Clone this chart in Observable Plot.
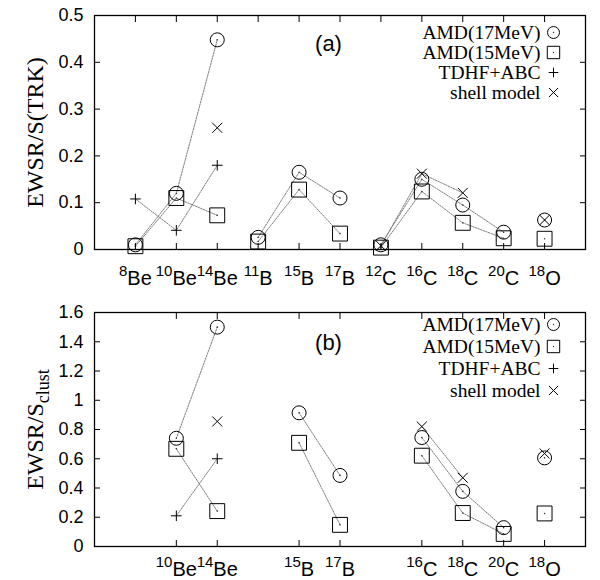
<!DOCTYPE html>
<html>
<head>
<meta charset="utf-8">
<script src="https://cdn.jsdelivr.net/npm/d3@7"></script>
<script src="https://cdn.jsdelivr.net/npm/@observablehq/plot@0.6"></script>
<style>
  body { margin: 0; background: #fff; }
  #chart { width: 600px; }
  #chart svg { display: block; }
</style>
</head>
<body>
<div id="chart"></div>
<script>
// ---------- data ----------
const isotopes = ["8Be","10Be","14Be","11B","15B","17B","12C","16C","18C","20C","18O"];
const groups   = ["Be","Be","Be","B","B","B","C","C","C","C","O"];
const seriesNames = ["AMD(17MeV)", "AMD(15MeV)", "TDHF+ABC", "shell model"];

// panel (a): EWSR / S(TRK)
const amd17A = [0.010, 0.120, 0.448, 0.026, 0.165, 0.110, 0.010, 0.150, 0.095, 0.037, 0.063];
const amd15A = [0.007, 0.110, 0.073, 0.017, 0.128, 0.034, 0.004, 0.124, 0.057, 0.024, 0.023];
const tdhfA  = [0.108, 0.041, 0.180, null, null, null, null, null, null, null, null];
const shellA = [null, null, 0.260, null, null, null, 0.008, 0.162, 0.121, null, 0.063];
const yTicksA = [0, 0.1, 0.2, 0.3, 0.4, 0.5];
const xTicksA = ["8Be","10Be","14Be","11B","15B","17B","12C","16C","18C","20C","18O"];

// panel (b): EWSR / S_clust
const amd17B = [null, 0.740, 1.500, null, 0.914, 0.486, null, 0.745, 0.377, 0.129, 0.606];
const amd15B = [null, 0.668, 0.242, null, 0.709, 0.148, null, 0.621, 0.229, 0.086, 0.226];
const tdhfB  = [null, 0.210, 0.600, null, null, null, null, null, null, null, null];
const shellB = [null, null, 0.855, null, null, null, null, 0.820, 0.470, null, 0.636];
const yTicksB = [0, 0.2, 0.4, 0.6, 0.8, 1, 1.2, 1.4, 1.6];
const xTicksB = ["10Be","14Be","15B","17B","16C","18C","20C","18O"];

// ---------- helpers ----------
const SANS = "'Liberation Sans', Arial, Helvetica, sans-serif";
const SERIF = "'Liberation Serif', 'Times New Roman', Times, serif";
const symbols = [
  {symbol: "circle", r: 7,   lr: 6,   dotted: true},
  {symbol: "square", r: 8.4, lr: 7,   dotted: true},
  {symbol: "plus",   r: 3.5, lr: 3.2, dotted: false},
  {symbol: "times",  r: 4.6, lr: 4.2, dotted: false}
];

function rowsFor(vals, name) {
  return vals.map((v, i) => ({x: i + 1, y: v, g: groups[i], s: name}));
}

function panel(opts) {
  const {series, yDomain, yTicks, xTicks, yLabel, tag, height, marginTop, marginBottom,
         xPad, legendDy, legendStep, tagDy} = opts;
  const rows = series.flatMap((vals, k) => rowsFor(vals, seriesNames[k]));
  const xt = xTicks.map(n => isotopes.indexOf(n) + 1);
  const marks = [];
  // connecting lines
  marks.push(Plot.line(rows, {
    x: "x", y: "y", z: d => d.s + "|" + d.g,
    stroke: "#6f6f6f", strokeWidth: 0.9, strokeDasharray: "1.6,1.2"
  }));
  // markers
  seriesNames.forEach((name, k) => {
    const data = rows.filter(d => d.s === name && d.y != null);
    const sy = symbols[k];
    marks.push(Plot.dot(data, {x: "x", y: "y", symbol: sy.symbol, r: sy.r,
      stroke: "black", strokeWidth: 1, fill: "none"}));
    if (sy.dotted) marks.push(Plot.dot(data, {x: "x", y: "y", r: 0.8, fill: "#333", stroke: "none"}));
  });
  // axes: labels
  marks.push(Plot.axisX({anchor: "bottom", ticks: xt, tickSize: 0, tickPadding: xPad,
    tickFormat: i => isotopes[i - 1], fontSize: 20, fontFamily: SANS, fill: "black", label: null}));
  marks.push(Plot.axisY({anchor: "left", ticks: yTicks, tickSize: 0, tickPadding: 11,
    tickFormat: d => String(d), fontSize: 18, fontFamily: SANS, fill: "black", label: null}));
  // axes: inward ticks on all sides
  marks.push(Plot.axisX({anchor: "bottom", ticks: xt, tickSize: -6, tickFormat: () => "", label: null, stroke: "black"}));
  marks.push(Plot.axisX({anchor: "top", ticks: xt, tickSize: -6, tickFormat: () => "", label: null, stroke: "black"}));
  marks.push(Plot.axisY({anchor: "left", ticks: yTicks, tickSize: -6, tickFormat: () => "", label: null, stroke: "black"}));
  marks.push(Plot.axisY({anchor: "right", ticks: yTicks, tickSize: -6, tickFormat: () => "", label: null, stroke: "black"}));
  marks.push(Plot.frame({stroke: "black", strokeWidth: 1.3}));
  // y label
  marks.push(Plot.text([yLabel], {text: d => d, frameAnchor: "left", dx: -59, rotate: -90,
    fontSize: 24, fontFamily: SERIF, fill: "black", textAnchor: "middle", lineAnchor: "middle"}));
  // panel tag
  marks.push(Plot.text([tag], {text: d => d, frameAnchor: "top-left", dx: 234, dy: tagDy,
    fontSize: 22, fontFamily: SANS, fill: "black", textAnchor: "middle", lineAnchor: "middle"}));
  // legend
  seriesNames.forEach((name, k) => {
    const dy = legendDy + k * legendStep;
    marks.push(Plot.text([name], {text: d => d, frameAnchor: "top-right", dx: -45, dy,
      fontSize: 19.5, fontFamily: SERIF, fill: "black", textAnchor: "end", lineAnchor: "middle"}));
    const sy = symbols[k];
    marks.push(Plot.dot([name], {frameAnchor: "top-right", dx: -32, dy, symbol: sy.symbol, r: sy.lr,
      stroke: "black", strokeWidth: 1, fill: "none"}));
    if (sy.dotted) marks.push(Plot.dot([name], {frameAnchor: "top-right", dx: -32, dy, r: 0.7, fill: "#333", stroke: "none"}));
  });

  const svg = Plot.plot({
    width: 600, height,
    marginLeft: 94, marginRight: 15, marginTop, marginBottom,
    x: {domain: [0, 12], axis: null},
    y: {domain: yDomain, axis: null},
    style: {background: "white", overflow: "visible", fontFamily: SANS},
    marks
  });
  // superscript mass numbers
  const ns = "http://www.w3.org/2000/svg";
  svg.querySelectorAll('g[aria-label="x-axis tick label"] text').forEach(t => {
    const m = /^(\d+)(\D+)$/.exec(t.textContent);
    if (!m) return;
    t.textContent = "";
    const a = document.createElementNS(ns, "tspan");
    a.setAttribute("font-size", "15"); a.setAttribute("dy", "-9"); a.textContent = m[1];
    const b = document.createElementNS(ns, "tspan");
    b.setAttribute("dy", "9"); b.textContent = m[2];
    t.append(a, b);
  });
  return svg;
}

const chart = document.getElementById("chart");
chart.append(panel({
  series: [amd17A, amd15A, tdhfA, shellA], yDomain: [0, 0.5], yTicks: yTicksA, xTicks: xTicksA,
  yLabel: "EWSR/S(TRK)", tag: "(a)", height: 290, marginTop: 15, marginBottom: 41,
  xPad: 21.5, legendDy: 17, legendStep: 20, tagDy: 28
}));
const yLabelB = "EWSR/S";
const yLabelBSub = "clust";
const svgB = panel({
  series: [amd17B, amd15B, tdhfB, shellB], yDomain: [0, 1.6], yTicks: yTicksB, xTicks: xTicksB,
  yLabel: yLabelB, tag: "(b)", height: 290, marginTop: 22, marginBottom: 34,
  xPad: 15, legendDy: 12, legendStep: 22, tagDy: 30
});
// subscript on panel (b) y label
svgB.querySelectorAll("text").forEach(t => {
  if (t.textContent === yLabelB) {
    const s = document.createElementNS("http://www.w3.org/2000/svg", "tspan");
    s.setAttribute("font-size", "18"); s.setAttribute("dy", "6"); s.textContent = yLabelBSub;
    t.append(s);
  }
});
chart.append(svgB);
</script>
</body>
</html>
